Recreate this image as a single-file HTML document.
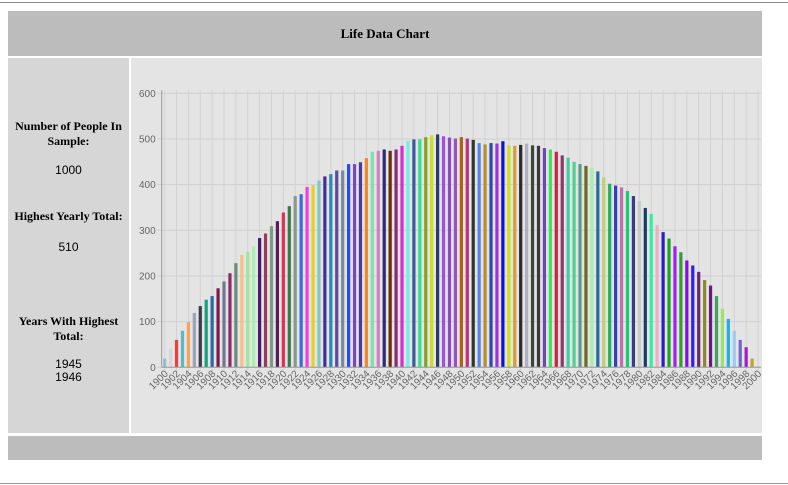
<!DOCTYPE html>
<html><head><meta charset="utf-8"><style>
body{margin:0;width:788px;height:485px;background:#fff;position:relative;overflow:hidden;font-family:"Liberation Serif",serif}
.abs{position:absolute}
.side h3{margin:0;font-size:12px;font-weight:bold;text-align:center;color:#000}
.side p{margin:0;font-family:"Liberation Sans",sans-serif;font-size:12px;text-align:center;color:#000}
</style></head><body>
<div class="abs" style="left:0;top:2px;width:788px;height:1px;background:#888"></div>
<div class="abs" style="left:8px;top:11px;width:754px;height:45px;background:#bcbcbc;text-align:center;line-height:45px;font-weight:bold;font-size:13px">Life Data Chart</div>
<div class="abs side" style="left:8px;top:58px;width:121px;height:375px;background:#d6d6d6">
 <h3 style="position:absolute;top:61px;width:121px">Number of People In Sample:</h3>
 <p style="position:absolute;top:105px;width:121px">1000</p>
 <h3 style="position:absolute;top:151px;width:121px">Highest Yearly Total:</h3>
 <p style="position:absolute;top:182px;width:121px">510</p>
 <h3 style="position:absolute;top:256px;width:121px">Years With Highest Total:</h3>
 <p style="position:absolute;top:300px;width:121px;line-height:13px">1945<br>1946</p>
</div>
<div class="abs" style="left:131px;top:58px;width:631px;height:375px;background:#e4e4e4">
<svg id="chart" width="631" height="375" style="position:absolute;left:0;top:0"></svg>
</div>
<div class="abs" style="left:8px;top:436px;width:754px;height:24px;background:#bcbcbc"></div>
<div class="abs" style="left:0;top:483px;width:788px;height:1px;background:#999"></div>
<script>
const years=[];for(let y=1900;y<=2000;y++)years.push(y);
const values=[19,41,60,80,99,119,134,148,156,173,188,206,228,246,253,265,283,293,309,320,339,353,375,379,395,399,409,418,423,431,431,445,445,449,458,472,474,477,474,477,485,496,499,499,504,508,510,506,503,501,504,501,498,491,488,491,490,495,486,485,487,490,486,485,480,477,472,464,459,450,445,441,436,429,416,402,398,394,386,375,364,349,336,311,296,282,265,252,234,223,209,191,179,156,128,106,80,60,44,19,1];
const colors=["#9bbcd0","#d6d6d6","#e8413a","#5bb8c4","#f5a55a","#9aa3b8","#3a3a4a","#18a07a","#2a6aa0","#7a1a4a","#6a7a8a","#8a2a6a","#6a8a78","#f5c08a","#9aea9a","#a8f0b0","#4a1a6a","#9a3a5a","#7a9a8a","#5a1a5a","#e0305a","#3a7a4a","#8a9a8a","#3a6ae0","#f040e0","#e8d020","#80c8c0","#4a2a9a","#2a8ab0","#5a4aa0","#7a8a9a","#2a4af0","#7a4ab0","#4a3a9a","#f08a2a","#7ae0b0","#d080c0","#2a2a7a","#6a2a0a","#8a2a7a","#d030d0","#70f0e0","#3a5a9a","#30e090","#8aa020","#c8e020","#2a3a6a","#a050e0","#8a4ac0","#9a50c0","#b06010","#c03080","#2a3a2a","#5a80f0","#b09030","#2a4ab0","#a030e0","#1010d0","#d0e020","#d0a030","#2a2a2a","#b0b0c0","#3a4a3a","#3a3a3a","#6a4ab0","#40e060","#d02040","#8a3a6a","#40d0a0","#50d090","#5a9a8a","#6a6a1a","#a0f0b0","#2a6a9a","#c0d070","#20b060","#3040c0","#c070b0","#10d070","#3a3a8a","#c0d0c0","#1a3a6a","#30f0a0","#f0b0c0","#2a20c0","#20a020","#a020f0","#30a030","#8010e0","#3020f0","#6a2a6a","#8a8a2a","#6a1a7a","#40a060","#a0e070","#20b0e0","#a0c8f0","#6a6ac0","#a020c0","#c0a030","#8a2a4a"];
const yTicks=[0,100,200,300,400,500,600];
const svg=document.getElementById('chart');const NS='http://www.w3.org/2000/svg';
const x0=30.7,x1=630,y0=309.3,yTop=35.3;
const step=(x1-x0)/years.length;
const xs=i=>x0+step*(i+0.5);
const ys=v=>y0-(v/600)*(y0-yTop);
function mk(t,a){const e=document.createElementNS(NS,t);for(const k in a)e.setAttribute(k,a[k]);svg.appendChild(e);return e;}
yTicks.forEach(v=>{
 const l=mk('line',{x1:x0-4,x2:x1,y1:ys(v),y2:ys(v),stroke:'#cfcfcf','stroke-width':1});
 
 
 const t=mk('text',{x:x0-6,y:ys(v)+3.5,'text-anchor':'end','font-size':'10','fill':'#666','font-family':'Liberation Sans, sans-serif'});
 t.textContent=v;
 
 
});
years.forEach((y,i)=>{
 if(i%2===0){
  const g=mk('line',{x1:xs(i),x2:xs(i),y1:yTop-3,y2:y0+4,stroke:'#d2d2d2','stroke-width':1});
  
  
  const t=mk('text',{x:xs(i)+4,y:y0+7,'text-anchor':'end','font-size':'10','fill':'#666','font-family':'Liberation Sans, sans-serif',transform:`rotate(-45 ${xs(i)+4} ${y0+7})`});
  t.textContent=y;
  
  
 }
});
values.forEach((v,i)=>{
 const r=mk('rect',{x:xs(i)-1.6,y:ys(v),width:3.2,height:y0-ys(v),fill:colors[i%colors.length]});
 
 
});
const ax=mk('line',{x1:x0,x2:x0,y1:yTop-3,y2:y0,stroke:'#999'});


const bx=mk('line',{x1:x0,x2:x1,y1:y0,y2:y0,stroke:'#999'});


</script>
</body></html>
